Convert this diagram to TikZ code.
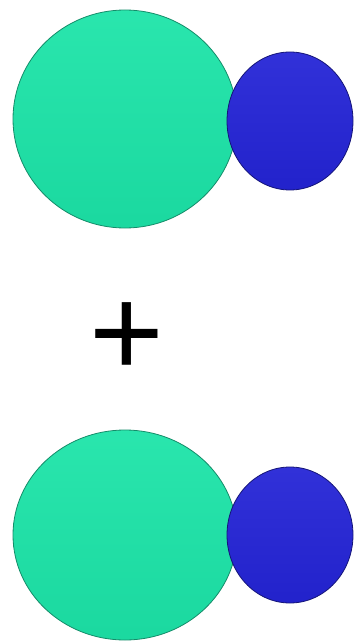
\documentclass[tikz,border=0pt]{standalone}
\usepackage{fontspec}
\newfontfamily\plusfont{Liberation Sans}
\usetikzlibrary{shapes.geometric}
\definecolor{tealatom}{RGB}{28,228,168}
\definecolor{tealedge}{RGB}{20,140,105}
\definecolor{blueatom}{RGB}{36,36,214}
\definecolor{blueedge}{RGB}{20,20,120}

\begin{document}
\begin{tikzpicture}[
  x=1pt, y=-1pt,
  atom/.style={ellipse, draw=#1edge, line width=0.8pt, inner sep=0pt,
    top color=#1atom!94!white, bottom color=#1atom!95!black},
  bigatom/.style={atom=teal, minimum width=224pt, minimum height=#1},
  smallatom/.style={atom=blue, minimum width=126pt, minimum height=#1},
  plussign/.style={inner sep=0pt, font=\plusfont\fontsize{128}{128}\selectfont}
]
  \useasboundingbox (0,0) rectangle (354,644);

  % top pair
  \node[bigatom=218pt] (big1) at (125,119) {};
  \node[smallatom=138pt] (small1) at (290,121) {};

  % plus
  \node[plussign] (plus) at (127,340) {+};

  % bottom pair
  \node[bigatom=210pt] (big2) at (125,535) {};
  \node[smallatom=136pt] (small2) at (290,535) {};
\end{tikzpicture}
\end{document}
